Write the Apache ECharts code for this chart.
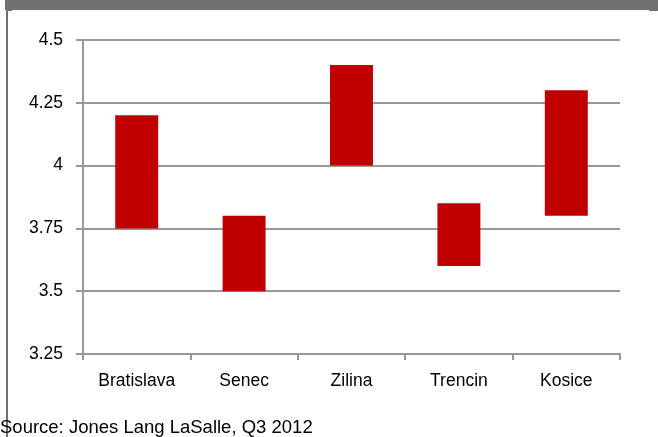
<!DOCTYPE html>
<html>
<head>
<meta charset="utf-8">
<script src="https://cdn.jsdelivr.net/npm/echarts@6/dist/echarts.min.js"></script>
<style>
  html, body { margin: 0; padding: 0; background: #fff; }
  #chart { width: 658px; height: 437px; }
</style>
</head>
<body>
<div id="chart"></div>
<script>
// Prime yield ranges by city (%)
const categories = ['Bratislava', 'Senec', 'Zilina', 'Trencin', 'Kosice'];
const lowValues  = [3.75, 3.5, 4.0, 3.6, 3.8];
const highValues = [4.2, 3.8, 4.4, 3.85, 4.3];
const yTicks = [3.25, 3.5, 3.75, 4, 4.25, 4.5];

const spread = highValues.map((h, i) => +(h - lowValues[i]).toFixed(4));

const FONT = '"Liberation Sans", Arial, sans-serif';
const GRID_GRAY = '#989898';
const FRAME_GRAY = '#6d7174';

const chart = echarts.init(document.getElementById('chart'), null, { renderer: 'canvas' });

chart.setOption({
  animation: false,
  backgroundColor: '#fff',
  grid: { left: 83, right: 38, top: 40, bottom: 83 },
  xAxis: {
    type: 'category',
    data: categories,
    boundaryGap: true,
    axisLine: { show: true, lineStyle: { color: GRID_GRAY, width: 2 } },
    axisTick: { show: true, length: 6, lineStyle: { color: GRID_GRAY, width: 2 } },
    axisLabel: { color: '#000', fontFamily: FONT, fontSize: 17.5, margin: 18 }
  },
  yAxis: {
    type: 'value',
    min: yTicks[0],
    max: yTicks[yTicks.length - 1],
    interval: 0.25,
    axisLine: { show: true, lineStyle: { color: GRID_GRAY, width: 2 } },
    axisTick: { show: true, length: 7, lineStyle: { color: GRID_GRAY, width: 2 } },
    splitLine: { show: true, lineStyle: { color: GRID_GRAY, width: 2 } },
    axisLabel: {
      color: '#000', fontFamily: FONT, fontSize: 17.5, margin: 20,
      formatter: v => String(+v.toFixed(2))
    }
  },
  series: [
    {
      name: 'low',
      type: 'bar',
      stack: 'range',
      data: lowValues,
      barWidth: '40%',
      itemStyle: { color: 'transparent' },
      silent: true
    },
    {
      name: 'range',
      type: 'bar',
      stack: 'range',
      data: spread,
      barWidth: '40%',
      itemStyle: { color: '#c00000' }
    }
  ],
  graphic: [
    // header band
    { type: 'rect', shape: { x: 5, y: 0, width: 653, height: 10 }, style: { fill: FRAME_GRAY } },
    { type: 'rect', shape: { x: 649, y: 0, width: 9, height: 11 }, style: { fill: FRAME_GRAY } },
    { type: 'rect', shape: { x: 6, y: 0, width: 6, height: 11 }, style: { fill: FRAME_GRAY } },
    // left frame line
    { type: 'rect', shape: { x: 6, y: 0, width: 2, height: 437 }, style: { fill: FRAME_GRAY } },
    // source note
    {
      type: 'text', left: 0, top: 418,
      style: { text: 'Source: Jones Lang LaSalle, Q3 2012', fill: '#000', font: '18.5px ' + FONT }
    }
  ]
});
</script>
</body>
</html>
